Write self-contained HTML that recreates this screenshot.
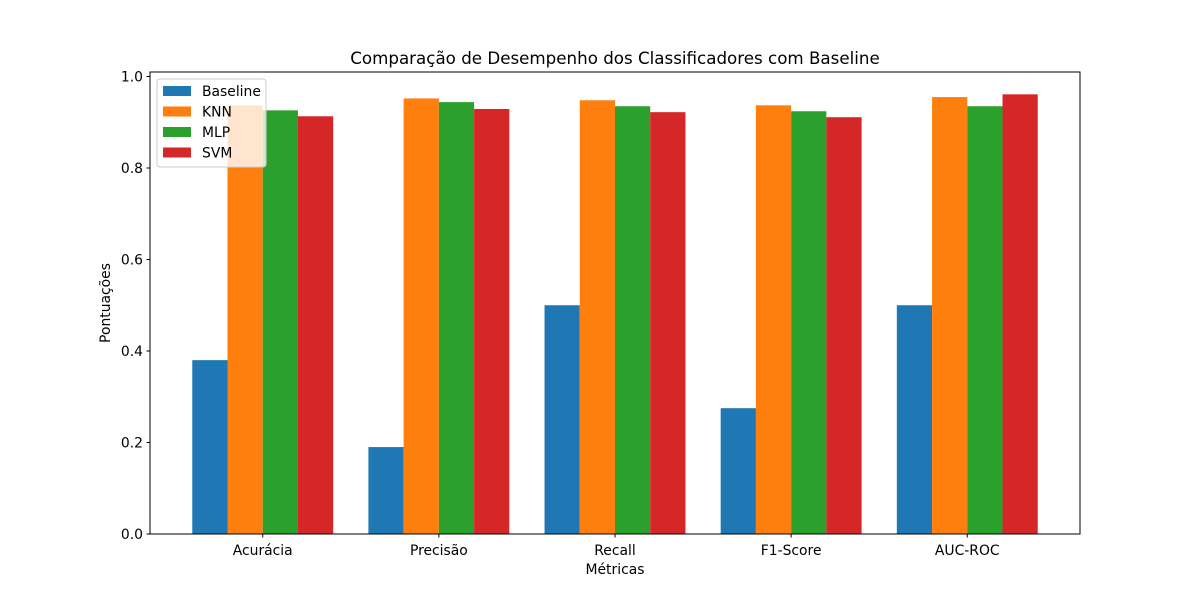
<!DOCTYPE html>
<html><head><meta charset="utf-8"><style>
body{margin:0;background:#fff;}
svg text{font-family:"DejaVu Sans","Liberation Sans",sans-serif;}
</style></head><body>
<svg id="chart" width="1200" height="600">
<rect width="1200" height="600" fill="#fff"/>
</svg>
<script>
const categories=["Acurácia","Precisão","Recall","F1-Score","AUC-ROC"];
const seriesNames=["Baseline","KNN","MLP","SVM"];
const baseline=[0.38,0.19,0.5,0.275,0.5];
const knn=[0.937,0.952,0.948,0.937,0.955];
const mlp=[0.926,0.944,0.935,0.924,0.935];
const svmv=[0.913,0.929,0.922,0.911,0.961];
const yTicks=[0.0,0.2,0.4,0.6,0.8,1.0];
const colors=["#1f77b4","#ff7f0e","#2ca02c","#d62728"];
const series=[baseline,knn,mlp,svmv];

const NS="http://www.w3.org/2000/svg";
const svg=document.getElementById('chart');
const L=150,R=1080,T=72,B=534;
const xmin=-0.64,xmax=4.64,ymax=1.0098;
const xs=v=>L+(v-xmin)/(xmax-xmin)*(R-L);
const ys=v=>B-v/ymax*(B-T);
function mk(tag,attrs,parent){const e=document.createElementNS(NS,tag);for(const k in attrs)e.setAttribute(k,attrs[k]);(parent||svg).appendChild(e);return e;}
const w=0.2;
series.forEach((s,si)=>{
  s.forEach((v,i)=>{
    const x0=xs(i+(si-1.5)*w-w/2),x1=xs(i+(si-1.5)*w+w/2);
    const r=mk('rect',{x:x0,y:ys(v),width:x1-x0,height:ys(0)-ys(v),fill:colors[si]});
    
    
  });
});
const frame=mk('rect',{x:L,y:T,width:R-L,height:B-T,fill:'none',stroke:'#000','stroke-width':1});


yTicks.forEach(t=>{
  const y=ys(t);
  mk('line',{x1:L-3.5,x2:L,y1:y,y2:y,stroke:'#000'});
  const tx=mk('text',{x:L-7,y:y+5,'text-anchor':'end','font-size':13.9});
  tx.textContent=t.toFixed(1);
  
  
});
categories.forEach((c,i)=>{
  const x=xs(i);
  mk('line',{x1:x,x2:x,y1:B,y2:B+3.5,stroke:'#000'});
  const tx=mk('text',{x:x,y:B+21,'text-anchor':'middle','font-size':13.9});
  tx.textContent=c;
  
  
});
const xt=mk('text',{x:(L+R)/2,y:574,'text-anchor':'middle','font-size':13.9});xt.textContent="Métricas";


const yt=mk('text',{x:110,y:(T+B)/2,'text-anchor':'middle','font-size':13.9,transform:`rotate(-90 110 ${(T+B)/2})`});yt.textContent="Pontuações";


const ti=mk('text',{x:(L+R)/2,y:64,'text-anchor':'middle','font-size':16.7});ti.textContent="Comparação de Desempenho dos Classificadores com Baseline";


const lg=mk('g',{});


mk('rect',{x:157,y:79,width:109,height:88,rx:3,fill:'#fff','fill-opacity':0.8,stroke:'#ccc'},lg);
seriesNames.forEach((n,i)=>{
  const y=86+i*20.5;
  mk('rect',{x:163,y:y,width:28,height:10,fill:colors[i]},lg);
  const tx=mk('text',{x:202,y:y+10,'font-size':13.9},lg);tx.textContent=n;
  
  
});
</script>
</body></html>
